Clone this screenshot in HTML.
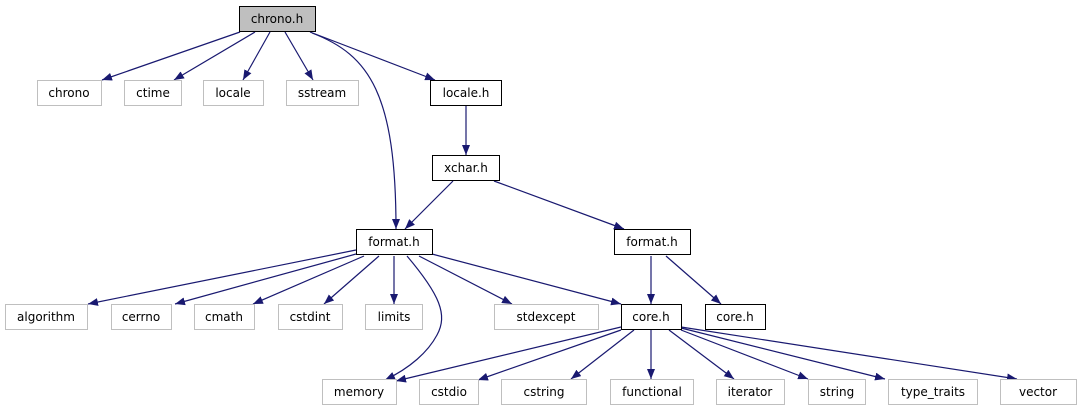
<!DOCTYPE html>
<html><head><meta charset="utf-8"><style>
html,body{margin:0;padding:0;background:#fff;width:1086px;height:411px;overflow:hidden}
svg{display:block}
text{font-family:"DejaVu Sans","Liberation Sans",sans-serif;font-size:12px;fill:#000}
</style></head><body>
<svg width="1086" height="411" viewBox="0 0 1086 411" xmlns="http://www.w3.org/2000/svg">
<defs><marker id="a" viewBox="0 0 10 8" refX="10" refY="4" markerWidth="10" markerHeight="8" markerUnits="userSpaceOnUse" orient="auto"><path d="M0,0L10,4L0,8z" fill="#191970"/></marker></defs>
<g fill="none" stroke="#191970" stroke-width="1.2" marker-end="url(#a)">
<path d="M240,32L102,80"/>
<path d="M255,32L174,80"/>
<path d="M270,32L243,80"/>
<path d="M285,32L313,80"/>
<path d="M310,32L435,80"/>
<path d="M312,33C370,55 396,95 396,229"/>
<path d="M466,106L466,155"/>
<path d="M453,181L405,229"/>
<path d="M494,181L624,229"/>
<path d="M356,250L88,304"/>
<path d="M356,254L175,304"/>
<path d="M364,256L253,304"/>
<path d="M379,256L324,304"/>
<path d="M394,256L394,304"/>
<path d="M407,256C440,295 448,315 437,335C428,352 410,368 385,380"/>
<path d="M419,256L512,304"/>
<path d="M432,254L621,304"/>
<path d="M651,256L651,304"/>
<path d="M666,256L721,304"/>
<path d="M621,327L396,381"/>
<path d="M621,330L478,380"/>
<path d="M634,330L571,379"/>
<path d="M651,330L651,379"/>
<path d="M669,330L734,379"/>
<path d="M681,330L808,379"/>
<path d="M681,328L885,379"/>
<path d="M681,327L1017,379"/>
</g>
<g stroke-width="1">
<rect x="239.5" y="6.5" width="76" height="25" fill="#bfbfbf" stroke="#000"/>
<g fill="#fff" stroke="#bfbfbf">
<rect x="37.5" y="80.5" width="64" height="25"/>
<rect x="124.5" y="80.5" width="57" height="25"/>
<rect x="203.5" y="80.5" width="60" height="25"/>
<rect x="286.5" y="80.5" width="72" height="25"/>
<rect x="5.5" y="304.5" width="82" height="25"/>
<rect x="111.5" y="304.5" width="60" height="25"/>
<rect x="194.5" y="304.5" width="60" height="25"/>
<rect x="278.5" y="304.5" width="64" height="25"/>
<rect x="365.5" y="304.5" width="57" height="25"/>
<rect x="494.5" y="304.5" width="104" height="25"/>
<rect x="322.5" y="379.5" width="74" height="25"/>
<rect x="419.5" y="379.5" width="59" height="25"/>
<rect x="501.5" y="379.5" width="85" height="25"/>
<rect x="610.5" y="379.5" width="83" height="25"/>
<rect x="716.5" y="379.5" width="68" height="25"/>
<rect x="808.5" y="379.5" width="57" height="25"/>
<rect x="888.5" y="379.5" width="89" height="25"/>
<rect x="1000.5" y="379.5" width="76" height="25"/>
</g>
<g fill="#fff" stroke="#000">
<rect x="430.5" y="80.5" width="71" height="25"/>
<rect x="432.5" y="155.5" width="67" height="25"/>
<rect x="356.5" y="229.5" width="76" height="25"/>
<rect x="614.5" y="229.5" width="76" height="25"/>
<rect x="621.5" y="304.5" width="60" height="25"/>
<rect x="705.5" y="304.5" width="60" height="25"/>
</g>
</g>
<g text-anchor="middle">
<text x="277" y="23">chrono.h</text>
<text x="69" y="97">chrono</text>
<text x="153" y="97">ctime</text>
<text x="233" y="97">locale</text>
<text x="322" y="97">sstream</text>
<text x="466" y="97">locale.h</text>
<text x="466" y="172">xchar.h</text>
<text x="394" y="246">format.h</text>
<text x="652" y="246">format.h</text>
<text x="46" y="321">algorithm</text>
<text x="141" y="321">cerrno</text>
<text x="224" y="321">cmath</text>
<text x="310" y="321">cstdint</text>
<text x="394" y="321">limits</text>
<text x="546" y="321">stdexcept</text>
<text x="651" y="321">core.h</text>
<text x="735" y="321">core.h</text>
<text x="359" y="396">memory</text>
<text x="449" y="396">cstdio</text>
<text x="544" y="396">cstring</text>
<text x="652" y="396">functional</text>
<text x="750" y="396">iterator</text>
<text x="837" y="396">string</text>
<text x="933" y="396">type_traits</text>
<text x="1038" y="396">vector</text>
</g>
</svg>
</body></html>
